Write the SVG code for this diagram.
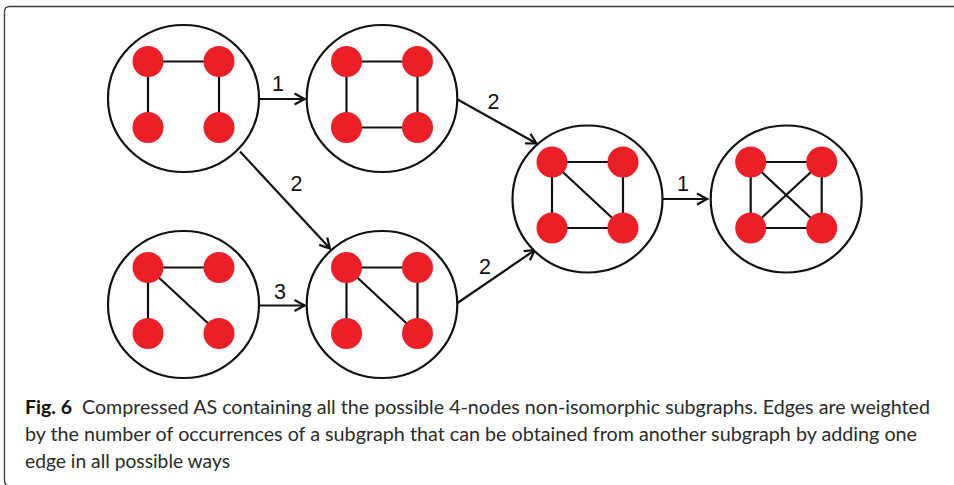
<svg xmlns="http://www.w3.org/2000/svg" width="954" height="485" viewBox="0 0 954 485">
<defs>
<style>
.frame{fill:none;stroke:#3a3a3a;stroke-width:1.3}
.ring{fill:#fff;stroke:#111;stroke-width:2.2}
.e{stroke:#111;stroke-width:2.2;stroke-linecap:round}
.dot{fill:#ec1f27}
.conn{fill:none;stroke:#111;stroke-width:2.2}
.lbl{font-family:"Liberation Sans",Arial,sans-serif;font-size:21.5px;fill:#111;text-anchor:middle}
.cap{font-family:Lato,"Open Sans",sans-serif;font-size:19.5px;fill:#2a2a2a}
.capb{font-family:Lato,"Open Sans",sans-serif;font-size:19.5px;font-weight:bold;fill:#111}
</style>
<marker id="arr" viewBox="0 0 13 14" refX="11.5" refY="7" markerWidth="13" markerHeight="14" markerUnits="userSpaceOnUse" orient="auto">
<path d="M1.5,1.5 L11.5,7 L1.5,12.5" fill="none" stroke="#111" stroke-width="2.2" stroke-linejoin="miter"/>
</marker>
</defs>
<path class="frame" d="M954,6.5 H10 Q4.5,6.5 4.5,12 V480 Q4.5,486 10,486 H954"/>
<g id="connectors">
<line class="conn" x1="259" y1="99" x2="304.5" y2="99" marker-end="url(#arr)"/>
<line class="conn" x1="259" y1="305.5" x2="304.5" y2="305.5" marker-end="url(#arr)"/>
<line class="conn" x1="240" y1="151.5" x2="330" y2="248.5" marker-end="url(#arr)"/>
<line class="conn" x1="456.7" y1="99" x2="536.5" y2="143.5" marker-end="url(#arr)"/>
<line class="conn" x1="456.7" y1="303.5" x2="535" y2="250" marker-end="url(#arr)"/>
<line class="conn" x1="662.5" y1="199" x2="707" y2="199" marker-end="url(#arr)"/>
<text class="lbl" x="278" y="91">1</text>
<text class="lbl" x="280" y="298.5">3</text>
<text class="lbl" x="296.5" y="190.5">2</text>
<text class="lbl" x="493.5" y="108.5">2</text>
<text class="lbl" x="485" y="273.5">2</text>
<text class="lbl" x="683" y="190.5">1</text>
</g>
<g id="n1" transform="translate(183.5,98.5)">
<ellipse class="ring" rx="75.5" ry="73.5"/>
<line class="e" x1="-35.5" y1="-37" x2="35.5" y2="-37"/>
<line class="e" x1="-35.5" y1="-37" x2="-35.5" y2="29"/>
<line class="e" x1="35.5" y1="-37" x2="35.5" y2="29"/>
<circle class="dot" cx="-35.5" cy="-37" r="15.5"/><circle class="dot" cx="35.5" cy="-37" r="15.5"/>
<circle class="dot" cx="-35.5" cy="29" r="15.5"/><circle class="dot" cx="35.5" cy="29" r="15.5"/>
</g>
<g id="n2" transform="translate(382,98.5)">
<ellipse class="ring" rx="75.3" ry="73.5"/>
<line class="e" x1="-35.5" y1="-37" x2="35.5" y2="-37"/>
<line class="e" x1="-35.5" y1="-37" x2="-35.5" y2="29"/>
<line class="e" x1="35.5" y1="-37" x2="35.5" y2="29"/>
<line class="e" x1="-35.5" y1="29" x2="35.5" y2="29"/>
<circle class="dot" cx="-35.5" cy="-37" r="15.5"/><circle class="dot" cx="35.5" cy="-37" r="15.5"/>
<circle class="dot" cx="-35.5" cy="29" r="15.5"/><circle class="dot" cx="35.5" cy="29" r="15.5"/>
</g>
<g id="n3" transform="translate(183.5,304.5)">
<ellipse class="ring" rx="75.5" ry="73.5"/>
<line class="e" x1="-35.5" y1="-37" x2="35.5" y2="-37"/>
<line class="e" x1="-35.5" y1="-37" x2="-35.5" y2="29"/>
<line class="e" x1="-35.5" y1="-37" x2="35.5" y2="29"/>
<circle class="dot" cx="-35.5" cy="-37" r="15.5"/><circle class="dot" cx="35.5" cy="-37" r="15.5"/>
<circle class="dot" cx="-35.5" cy="29" r="15.5"/><circle class="dot" cx="35.5" cy="29" r="15.5"/>
</g>
<g id="n4" transform="translate(382,304.5)">
<ellipse class="ring" rx="75.3" ry="73.5"/>
<line class="e" x1="-35.5" y1="-37" x2="35.5" y2="-37"/>
<line class="e" x1="-35.5" y1="-37" x2="-35.5" y2="29"/>
<line class="e" x1="-35.5" y1="-37" x2="35.5" y2="29"/>
<line class="e" x1="35.5" y1="-37" x2="35.5" y2="29"/>
<circle class="dot" cx="-35.5" cy="-37" r="15.5"/><circle class="dot" cx="35.5" cy="-37" r="15.5"/>
<circle class="dot" cx="-35.5" cy="29" r="15.5"/><circle class="dot" cx="35.5" cy="29" r="15.5"/>
</g>
<g id="n5" transform="translate(587.5,199)">
<ellipse class="ring" rx="75" ry="73.5"/>
<line class="e" x1="-35.5" y1="-37" x2="35.5" y2="-37"/>
<line class="e" x1="-35.5" y1="-37" x2="-35.5" y2="29"/>
<line class="e" x1="35.5" y1="-37" x2="35.5" y2="29"/>
<line class="e" x1="-35.5" y1="29" x2="35.5" y2="29"/>
<line class="e" x1="-35.5" y1="-37" x2="35.5" y2="29"/>
<circle class="dot" cx="-35.5" cy="-37" r="15.5"/><circle class="dot" cx="35.5" cy="-37" r="15.5"/>
<circle class="dot" cx="-35.5" cy="29" r="15.5"/><circle class="dot" cx="35.5" cy="29" r="15.5"/>
</g>
<g id="n6" transform="translate(786.2,199)">
<ellipse class="ring" rx="75.5" ry="73.5"/>
<line class="e" x1="-35.5" y1="-37" x2="35.5" y2="-37"/>
<line class="e" x1="-35.5" y1="-37" x2="-35.5" y2="29"/>
<line class="e" x1="35.5" y1="-37" x2="35.5" y2="29"/>
<line class="e" x1="-35.5" y1="29" x2="35.5" y2="29"/>
<line class="e" x1="-35.5" y1="-37" x2="35.5" y2="29"/>
<line class="e" x1="35.5" y1="-37" x2="-35.5" y2="29"/>
<circle class="dot" cx="-35.5" cy="-37" r="15.5"/><circle class="dot" cx="35.5" cy="-37" r="15.5"/>
<circle class="dot" cx="-35.5" cy="29" r="15.5"/><circle class="dot" cx="35.5" cy="29" r="15.5"/>
</g>
<g id="caption">
<text class="capb" x="25" y="414" textLength="47" lengthAdjust="spacingAndGlyphs">Fig. 6</text>
<text class="cap" x="82" y="414" textLength="848" lengthAdjust="spacingAndGlyphs">Compressed AS containing all the possible 4-nodes non-isomorphic subgraphs. Edges are weighted</text>
<text class="cap" x="25" y="441" textLength="892" lengthAdjust="spacingAndGlyphs">by the number of occurrences of a subgraph that can be obtained from another subgraph by adding one</text>
<text class="cap" x="25" y="468" textLength="205" lengthAdjust="spacingAndGlyphs">edge in all possible ways</text>
</g>
</svg>
